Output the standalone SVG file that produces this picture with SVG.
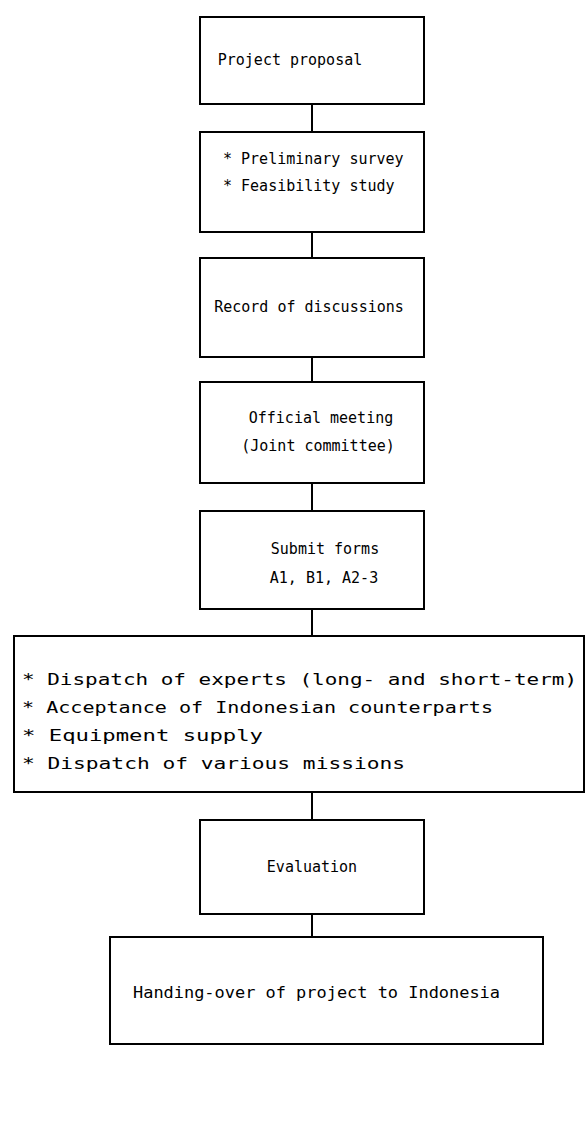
<svg xmlns="http://www.w3.org/2000/svg" width="587" height="1138" viewBox="0 0 587 1138">
<style>
.b{fill:#fff;stroke:#000;stroke-width:2}
.c{stroke:#000;stroke-width:2;fill:none}
text{font-family:"DejaVu Sans Mono","Liberation Mono",monospace;font-size:15px;fill:#000}
.m{text-anchor:middle}
.w{font-size:16px}
</style>
<rect width="587" height="1138" fill="#fff"/>
<g id="connectors">
<line class="c" x1="312" y1="104" x2="312" y2="132"/>
<line class="c" x1="312" y1="232" x2="312" y2="258"/>
<line class="c" x1="312" y1="357" x2="312" y2="382"/>
<line class="c" x1="312" y1="483" x2="312" y2="511"/>
<line class="c" x1="312" y1="609" x2="312" y2="636"/>
<line class="c" x1="312" y1="792" x2="312" y2="820"/>
<line class="c" x1="312" y1="914" x2="312" y2="937"/>
</g>
<g id="n1"><rect class="b" x="200" y="17" width="224" height="87"/><text x="290" y="65" class="m">Project proposal</text></g>
<g id="n2"><rect class="b" x="200" y="132" width="224" height="100"/><text x="223" y="164">* Preliminary survey</text><text x="223" y="191">* Feasibility study</text></g>
<g id="n3"><rect class="b" x="200" y="258" width="224" height="99"/><text x="309" y="312" class="m">Record of discussions</text></g>
<g id="n4"><rect class="b" x="200" y="382" width="224" height="101"/><text x="321" y="423" class="m">Official meeting</text><text x="318" y="451" class="m">(Joint committee)</text></g>
<g id="n5"><rect class="b" x="200" y="511" width="224" height="98"/><text x="325" y="554" class="m">Submit forms</text><text x="324" y="583" class="m">A1, B1, A2-3</text></g>
<g id="n6"><rect class="b" x="14" y="636" width="570" height="156"/>
<text class="w" x="22" y="685" textLength="555" lengthAdjust="spacingAndGlyphs">* Dispatch of experts (long- and short-term)</text>
<text class="w" x="22" y="713" textLength="471" lengthAdjust="spacingAndGlyphs">* Acceptance of Indonesian counterparts</text>
<text class="w" x="22" y="741" textLength="241" lengthAdjust="spacingAndGlyphs">* Equipment supply</text>
<text class="w" x="22" y="769" textLength="383" lengthAdjust="spacingAndGlyphs">* Dispatch of various missions</text></g>
<g id="n7"><rect class="b" x="200" y="820" width="224" height="94"/><text x="312" y="872" class="m">Evaluation</text></g>
<g id="n8"><rect class="b" x="110" y="937" width="433" height="107"/><text class="w" x="133" y="998" textLength="367" lengthAdjust="spacingAndGlyphs">Handing-over of project to Indonesia</text></g>
</svg>
